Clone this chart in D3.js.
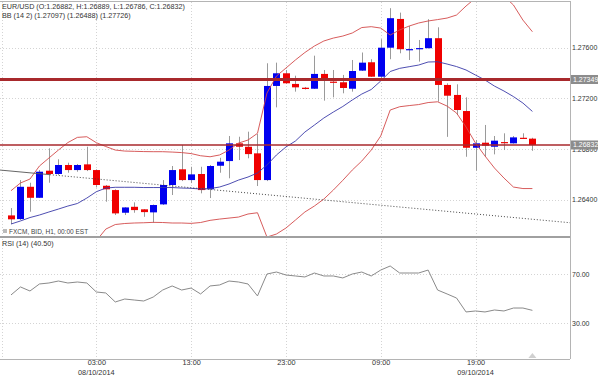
<!DOCTYPE html>
<html>
<head>
<meta charset="utf-8">
<script src="https://cdn.jsdelivr.net/npm/d3@7"></script>
<style>
body { margin: 0; background: #fff; }
text { font-family: "Liberation Sans", Arial, sans-serif; }
</style>
</head>
<body>
<svg id="chart" width="600" height="377"></svg>
<script>
// hourly EUR/USD candles, 07/10 18:00 .. 10/10 01:00
const opens  = [1.26276,1.26247,1.26502,1.26415,1.26629,1.26603,1.26674,1.26634,1.26679,1.26634,
                1.26510,1.26476,1.26297,1.26344,1.26324,1.26300,1.26363,1.26516,1.26640,1.26555,
                1.26603,1.26482,1.26668,1.26705,1.26845,1.26818,1.26766,1.26555,1.27298,1.27398,
                1.27314,1.27284,1.27276,1.27393,1.27332,1.27327,1.27276,1.27419,1.27485,1.27371,
                1.27600,1.27827,1.27586,1.27595,1.27596,1.27675,1.27306,1.27227,1.27100,1.26810,
                1.26850,1.26818,1.26855,1.26845,1.26889,1.26882];
const highs  = [1.26334,1.26555,1.26534,1.26634,1.26806,1.26719,1.26692,1.26682,1.26818,1.26640,
                1.26516,1.26482,1.26341,1.26379,1.26326,1.26362,1.26555,1.26666,1.26832,1.26660,
                1.26660,1.26674,1.26731,1.26903,1.26897,1.26937,1.26919,1.27477,1.27482,1.27424,
                1.27379,1.27290,1.27537,1.27424,1.27424,1.27385,1.27503,1.27562,1.27509,1.27667,
                1.27912,1.27877,1.27771,1.27661,1.27825,1.27761,1.27319,1.27311,1.27208,1.26871,
                1.26990,1.26903,1.26924,1.26903,1.26924,1.26889];
const lows   = [1.26208,1.26240,1.26305,1.26413,1.26534,1.26595,1.26613,1.26621,1.26626,1.26497,
                1.26384,1.26279,1.26279,1.26297,1.26265,1.26218,1.26358,1.26437,1.26547,1.26531,
                1.26450,1.26413,1.26613,1.26569,1.26713,1.26727,1.26508,1.26547,1.27129,1.27314,
                1.27253,1.27270,1.27274,1.27182,1.27208,1.27240,1.27253,1.27416,1.27369,1.27361,
                1.27509,1.27556,1.27503,1.27490,1.27594,1.27174,1.26896,1.27069,1.26739,1.26629,
                1.26739,1.26758,1.26792,1.26843,1.26879,1.26786];
const closes = [1.26245,1.26502,1.26415,1.26621,1.26603,1.26674,1.26634,1.26674,1.26634,1.26516,
                1.26482,1.26292,1.26339,1.26318,1.26302,1.26358,1.26516,1.26634,1.26555,1.26600,
                1.26476,1.26666,1.26700,1.26845,1.26818,1.26760,1.26555,1.27298,1.27398,1.27319,
                1.27287,1.27274,1.27393,1.27340,1.27324,1.27282,1.27416,1.27482,1.27371,1.27600,
                1.27833,1.27588,1.27589,1.27597,1.27675,1.27306,1.27221,1.27108,1.26810,1.26845,
                1.26826,1.26866,1.26850,1.26892,1.26881,1.26832];

// Bollinger bands (14, 2)
const bbUpper  = [1.26471,1.26532,1.26563,1.26666,1.26729,1.26792,1.26851,1.26892,1.26897,1.26850,
                  1.26820,1.26792,1.26784,1.26782,1.26780,1.26779,1.26779,1.26776,1.26772,1.26764,
                  1.26747,1.26739,1.26753,1.26792,1.26847,1.26871,1.26924,1.27242,1.27376,1.27439,
                  1.27503,1.27562,1.27613,1.27653,1.27676,1.27692,1.27716,1.27759,1.27766,1.27755,
                  1.27700,1.27740,1.27771,1.27795,1.27811,1.27822,1.27834,1.27858,1.27929,1.27992,
                  1.28032,1.28039,1.28008,1.27937,1.27818,1.27726];
const bbMiddle = [1.26208,1.26232,1.26259,1.26279,1.26303,1.26326,1.26350,1.26370,1.26413,1.26463,
                  1.26492,1.26498,1.26498,1.26498,1.26496,1.26496,1.26496,1.26496,1.26492,1.26490,
                  1.26484,1.26488,1.26500,1.26524,1.26555,1.26579,1.26611,1.26674,1.26753,1.26816,
                  1.26863,1.26934,1.26989,1.27045,1.27092,1.27136,1.27187,1.27234,1.27270,1.27337,
                  1.27412,1.27437,1.27450,1.27463,1.27487,1.27489,1.27471,1.27451,1.27424,1.27384,
                  1.27345,1.27297,1.27258,1.27214,1.27163,1.27097];
const bbLower  = [1.25947,1.25932,1.25955,1.25892,1.25876,1.25860,1.25849,1.25847,1.25929,1.26076,
                  1.26168,1.26204,1.26212,1.26216,1.26218,1.26221,1.26220,1.26216,1.26216,1.26213,
                  1.26220,1.26237,1.26247,1.26255,1.26263,1.26287,1.26297,1.26105,1.26129,1.26176,
                  1.26239,1.26303,1.26350,1.26405,1.26476,1.26553,1.26634,1.26705,1.26792,1.26903,
                  1.27108,1.27134,1.27143,1.27151,1.27167,1.27173,1.27139,1.27084,1.26974,1.26847,
                  1.26745,1.26650,1.26571,1.26500,1.26488,1.26488];

const rsi = [53.0,59.5,56.2,61.9,62.7,64.3,62.7,63.5,62.7,55.4,
             54.6,47.3,49.7,48.9,48.1,51.3,57.0,60.3,57.0,58.6,
             53.8,60.3,61.1,64.3,63.5,61.9,52.2,70.0,71.6,69.2,
             68.4,67.6,70.8,68.4,68.4,66.8,70.0,71.6,68.4,73.2,
             76.5,70.8,70.8,70.8,73.2,57.0,53.8,50.5,39.2,40.0,
             39.2,40.8,40.0,42.4,42.4,40.5];

const priceTicks = [1.264, 1.268, 1.272, 1.276];
const rsiTicks = [30, 70];
const gridIndex = [-1, 9, 19, 29, 39, 49];
const tickIndex = [9, 19, 29, 39, 49];
const tickTimes = ["03:00", "13:00", "23:00", "09:00", "19:00"];
const tickDates = ["08/10/2014", "", "", "", "09/10/2014"];
const levels = [1.27349, 1.26832];
const levelWidths = [3, 1.5];
const trendIndex = [-1.16, 59];
const trendPrice = [1.26634, 1.26218];
const trendSolidTo = 4.1;

const svg = d3.select("#chart");
const left = 0, right = 570;
const mainTop = 2, mainBottom = 237, rsiTop = 238, rsiBottom = 359;

const x = d3.scaleLinear().domain([0, 55]).range([11, 532.4]);
const y = d3.scaleLinear().domain([1.264, 1.276]).range([199.7, 47.7]);
const yR = d3.scaleLinear().domain([30, 70]).range([323.3, 274]);

svg.append("clipPath").attr("id", "clipMain")
	.append("rect").attr("x", left).attr("y", mainTop).attr("width", right - left).attr("height", mainBottom - mainTop);
svg.append("clipPath").attr("id", "clipRsi")
	.append("rect").attr("x", left).attr("y", rsiTop).attr("width", right - left).attr("height", rsiBottom - rsiTop);

// grid
const grid = svg.append("g").attr("stroke", "#d4d4d4").attr("stroke-width", 1).attr("stroke-dasharray", "1,2");
grid.selectAll(".hg").data(priceTicks).join("line")
	.attr("x1", left).attr("x2", right)
	.attr("y1", d => Math.round(y(d)) + 0.5).attr("y2", d => Math.round(y(d)) + 0.5);
grid.selectAll(".hr").data(rsiTicks).join("line")
	.attr("x1", left).attr("x2", right)
	.attr("y1", d => Math.round(yR(d)) + 0.5).attr("y2", d => Math.round(yR(d)) + 0.5);
grid.selectAll(".vg").data(gridIndex).join("line")
	.attr("x1", d => Math.round(x(d)) + 0.5).attr("x2", d => Math.round(x(d)) + 0.5)
	.attr("y1", mainTop).attr("y2", rsiBottom);

const main = svg.append("g").attr("clip-path", "url(#clipMain)");

// candles
const idx = d3.range(opens.length);
main.append("g").selectAll("line").data(idx).join("line")
	.attr("x1", i => Math.round(x(i)) + 0.5).attr("x2", i => Math.round(x(i)) + 0.5)
	.attr("y1", i => y(highs[i])).attr("y2", i => y(lows[i]))
	.attr("stroke", "#9a9a9a").attr("stroke-width", 1);
main.append("g").selectAll("rect").data(idx).join("rect")
	.attr("x", i => Math.round(x(i)) - 3)
	.attr("width", 7)
	.attr("y", i => y(Math.max(opens[i], closes[i])))
	.attr("height", i => Math.max(1.2, Math.abs(y(opens[i]) - y(closes[i]))))
	.attr("fill", i => closes[i] >= opens[i] ? "#0000f0" : "#f00000");

// bollinger
const line = d3.line().x((d, i) => x(i)).y(d => y(d));
[[bbUpper, "#d24a4a"], [bbLower, "#d24a4a"], [bbMiddle, "#3a3aa8"]].forEach(([s, c]) => {
	main.append("path").attr("d", line(s)).attr("fill", "none")
		.attr("stroke", c).attr("stroke-width", 0.9);
});

// trend line
const tl = d3.scaleLinear().domain(trendIndex).range(trendPrice);
main.append("line")
	.attr("x1", x(trendIndex[0])).attr("y1", y(trendPrice[0]))
	.attr("x2", x(trendSolidTo)).attr("y2", y(tl(trendSolidTo)))
	.attr("stroke", "#555").attr("stroke-width", 0.9);
main.append("line")
	.attr("x1", x(trendSolidTo)).attr("y1", y(tl(trendSolidTo)))
	.attr("x2", x(trendIndex[1])).attr("y2", y(trendPrice[1]))
	.attr("stroke", "#333").attr("stroke-width", 0.9).attr("stroke-dasharray", "1,2");

// level lines
main.selectAll(".lvl").data(levels).join("line")
	.attr("x1", left).attr("x2", right)
	.attr("y1", d => y(d)).attr("y2", d => y(d))
	.attr("stroke", "#a8292c").attr("stroke-width", (d, i) => levelWidths[i]);

// rsi
svg.append("g").attr("clip-path", "url(#clipRsi)")
	.append("path").attr("d", d3.line().x((d, i) => x(i)).y(d => yR(d))(rsi))
	.attr("fill", "none").attr("stroke", "#8a8a8a").attr("stroke-width", 1);

// frames
const frame = svg.append("g").attr("stroke", "#b4b4b4").attr("fill", "none");
frame.append("line").attr("x1", left).attr("x2", right).attr("y1", 1.5).attr("y2", 1.5);
frame.append("line").attr("x1", right + 0.5).attr("x2", right + 0.5).attr("y1", 1).attr("y2", rsiBottom);
frame.append("line").attr("x1", left).attr("x2", right).attr("y1", mainBottom).attr("y2", mainBottom)
	.attr("stroke-width", 2).attr("stroke", "#a0a0a0");
frame.append("line").attr("x1", left).attr("x2", right).attr("y1", rsiBottom + 0.5).attr("y2", rsiBottom + 0.5);

// right axes
const yAxis = svg.append("g").attr("transform", `translate(${right},0)`)
	.call(d3.axisRight(y).tickValues(priceTicks).tickFormat(d3.format(".5f")).tickSize(0).tickPadding(2));
const rAxis = svg.append("g").attr("transform", `translate(${right},0)`)
	.call(d3.axisRight(yR).tickValues(rsiTicks).tickFormat(d3.format(".2f")).tickSize(0).tickPadding(2));
[yAxis, rAxis].forEach(a => {
	a.select(".domain").remove();
	a.selectAll("text").attr("font-size", 7).attr("fill", "#333")
		.attr("font-family", "Liberation Sans, Arial, sans-serif");
});

// level labels
const lab = svg.append("g").selectAll("g").data(levels).join("g")
	.attr("transform", d => `translate(${right + 1},${y(d)})`);
lab.append("rect").attr("x", 0).attr("y", -4.5).attr("width", 27).attr("height", 9).attr("fill", "#8c8c8c");
lab.append("text").attr("x", 2).attr("dy", "0.34em").attr("font-size", 7).attr("fill", "#fff")
	.text(d => d3.format(".5f")(d));

// x axis
const xAxis = svg.append("g").attr("transform", `translate(0,${rsiBottom})`)
	.call(d3.axisBottom(x).tickValues(tickIndex).tickFormat((d, i) => tickTimes[i]).tickSize(0).tickPadding(1));
xAxis.select(".domain").remove();
xAxis.selectAll("text").attr("font-size", 7.3).attr("fill", "#333")
	.attr("font-family", "Liberation Sans, Arial, sans-serif");
svg.append("g").selectAll("text").data(tickIndex).join("text")
	.attr("x", d => x(d)).attr("y", 375).attr("text-anchor", "middle")
	.attr("font-size", 7.3).attr("fill", "#333")
	.text((d, i) => tickDates[i]);

// current bar marker
const last = opens.length - 1;
svg.append("path")
	.attr("d", `M${x(last) - 4},${rsiBottom - 1}L${x(last) + 4},${rsiBottom - 1}L${x(last)},${rsiBottom - 6}Z`)
	.attr("fill", "#d0d0d0");

// titles
const t = svg.append("g").attr("fill", "#333").attr("font-size", 7.2);
t.append("text").attr("x", 2).attr("y", 9)
	.text(`EUR/USD (O:${opens[last].toFixed(5)}, H:${highs[last].toFixed(5)}, L:${lows[last].toFixed(5)}, C:${closes[last].toFixed(5)})`);
t.append("text").attr("x", 2).attr("y", 18)
	.text(`BB (14 2) (${bbMiddle[last].toFixed(5)}) (${bbLower[last].toFixed(5)}) (${bbUpper[last].toFixed(5)})`);
t.append("text").attr("x", 2).attr("y", 246).text(`RSI (14)  (${rsi[last].toFixed(2)})`);
svg.append("rect").attr("x", 3).attr("y", 229).attr("width", 4).attr("height", 4).attr("fill", "#bbb");
svg.append("text").attr("x", 9).attr("y", 234).attr("font-size", 6.5).attr("fill", "#444")
	.text("FXCM, BID, H1, 00:00 EST");
</script>
</body>
</html>
